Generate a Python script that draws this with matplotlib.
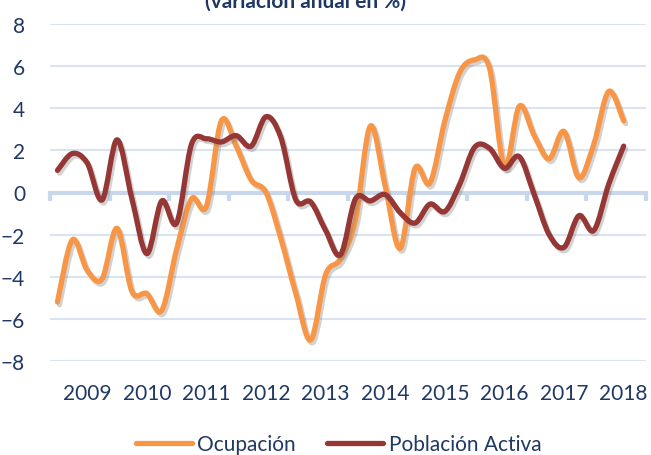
import matplotlib
matplotlib.use('Agg')
import matplotlib.pyplot as plt
from matplotlib.path import Path
from matplotlib.patches import PathPatch
from matplotlib.lines import Line2D
import matplotlib.patheffects as pe
import numpy as np

years = ['2009', '2010', '2011', '2012', '2013', '2014', '2015', '2016', '2017', '2018']

ocupacion = [-5.2, -2.25, -3.7, -4.1, -1.7, -4.7, -4.8, -5.6, -2.7, -0.3,
             -0.65, 3.4, 2.2, 0.6, 0.0, -2.2, -4.8, -7.0, -3.9, -3.15,
             -1.3, 3.15, 0.3, -2.65, 1.15, 0.45, 3.4, 5.7, 6.3, 5.9,
             1.2, 4.1, 2.7, 1.6, 2.9, 0.7, 2.3, 4.8, 3.4]

poblacion_activa = [1.05, 1.85, 1.4, -0.35, 2.5, -0.3, -2.9, -0.4, -1.45, 2.3,
                    2.55, 2.4, 2.7, 2.2, 3.6, 2.6, -0.35, -0.45, -1.8, -2.95,
                    -0.3, -0.4, -0.1, -0.95, -1.45, -0.55, -0.9, 0.4, 2.15, 2.1,
                    1.15, 1.7, -0.1, -2.0, -2.6, -1.1, -1.8, 0.4, 2.2]

C_OCU = '#F79646'
C_PA = '#953735'
TXT = '#1f3864'
GRID = '#d9e3f1'
AXL = '#c8d7ec'

plt.rcParams['font.family'] = ['Lato', 'DejaVu Sans']


def smooth_path(vals):
    y = np.asarray(vals, dtype=float)
    x = np.arange(len(y), dtype=float)
    pts = np.column_stack([x, y])
    n = len(pts)
    verts = [pts[0]]
    codes = [Path.MOVETO]
    for i in range(n - 1):
        p0 = pts[i - 1] if i > 0 else pts[i]
        p1 = pts[i]
        p2 = pts[i + 1]
        p3 = pts[i + 2] if i + 2 < n else pts[i + 1]
        c1 = p1 + (p2 - p0) / 6.0
        c2 = p2 - (p3 - p1) / 6.0
        verts += [c1, c2, p2]
        codes += [Path.CURVE4] * 3
    return Path(np.array(verts), codes)


fig = plt.figure(figsize=(6.51, 4.56), dpi=100)
ax = fig.add_axes([50 / 651, 1 - 362 / 456, 596 / 651, 337 / 456])

ax.set_xlim(-0.5, 39.5)
ax.set_ylim(-8, 8)
ax.set_yticks(range(-8, 9, 2))
ax.yaxis.grid(True, color=GRID, lw=1.5)
ax.set_axisbelow(True)
for s in ['left', 'right', 'bottom']:
    ax.spines[s].set_visible(False)
ax.spines['top'].set_position(('data', 0))
ax.spines['top'].set_color(AXL)
ax.spines['top'].set_linewidth(3)
ax.spines['top'].set_zorder(1)

ax.set_xticks([4 * k + 2 for k in range(len(years))])
ax.set_xticklabels(years)
ax.set_xticks([4 * k - 0.5 for k in range(len(years) + 1)], minor=True)
ax.tick_params(axis='x', which='major', length=0, bottom=False, top=False,
               labelsize=15, labelcolor=TXT, pad=16)
ax.tick_params(axis='x', which='minor', bottom=False, top=True, direction='in',
               length=6, width=3, color=AXL)
ax.tick_params(axis='y', length=0, labelsize=15, labelcolor=TXT, pad=18)

shadow = [pe.SimpleLineShadow(offset=(1.5, -2), shadow_color='#808080', alpha=0.35),
          pe.Normal()]
for vals, col in [(ocupacion, C_OCU), (poblacion_activa, C_PA)]:
    patch = PathPatch(smooth_path(vals), facecolor='none', edgecolor=col, lw=3.8,
                      capstyle='round', joinstyle='round', zorder=3)
    patch.set_path_effects(shadow)
    ax.add_patch(patch)

handles = [Line2D([], [], color=C_OCU, lw=3.8, solid_capstyle='round'),
           Line2D([], [], color=C_PA, lw=3.8, solid_capstyle='round')]
fig.legend(handles, ['Ocupación', 'Población Activa'], loc='center',
           bbox_to_anchor=(0.52, 1 - 445 / 456), ncol=2, frameon=False,
           fontsize=15, labelcolor=TXT, handlelength=2.7, handletextpad=0.25,
           columnspacing=1.5)

fig.text(0.47, 1 - 8 / 456, '(variación anual en %)', ha='center', va='baseline',
         fontsize=15, fontweight='bold', color=TXT)

fig.savefig('out.png', dpi=100)
